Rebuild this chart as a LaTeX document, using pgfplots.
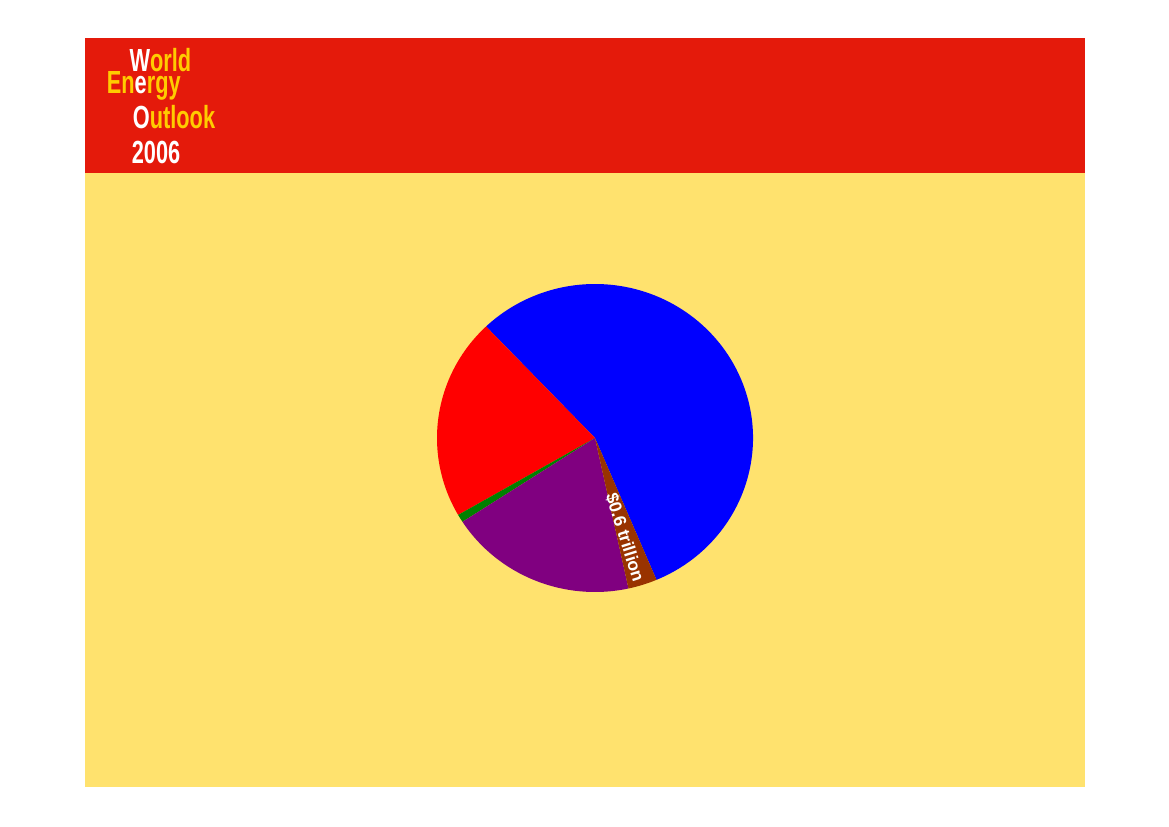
\documentclass[border=0pt]{standalone}
\usepackage{pgfplots}
\usepackage{pgfplotstable}
\pgfplotsset{compat=1.18}
\usepackage{fontspec}
\setmainfont{Liberation Sans}
\newfontfamily\logofont[FakeStretch=0.68]{Liberation Sans}

\definecolor{slidered}{HTML}{E41A0B}
\definecolor{slideyellow}{HTML}{FFE26E}
\definecolor{logoyellow}{HTML}{FFCC00}
\definecolor{pieblue}{HTML}{0000FF}
\definecolor{piered}{HTML}{FF0000}
\definecolor{piegreen}{HTML}{008000}
\definecolor{piepurple}{HTML}{800080}
\definecolor{piebrown}{HTML}{993300}

% cumulative investment, trillion dollars (counterclockwise from the start angle)
\pgfplotstableread{
sector   value colour
Power    11.3  pieblue
Oil      4.3   piered
Biofuels 0.17  piegreen
Gas      3.9   piepurple
Coal     0.6   piebrown
}\investtable

\begin{document}
\begin{tikzpicture}
% slide background
\path[use as bounding box, fill=white] (0,0) rectangle (1169bp,827bp);
\fill[slideyellow] (84.5bp,39.7bp) rectangle (1085bp,789.3bp);
\fill[slidered] (84.5bp,654.3bp) rectangle (1085bp,789.3bp);

% logo
\begin{scope}[every node/.style={anchor=base west, inner sep=0pt,
    font=\logofont\bfseries\fontsize{32bp}{32bp}\selectfont}]
\node at (129.3bp,755.7bp) {\color{white}W\color{logoyellow}orld};
\node at (106.7bp,733bp) {\color{logoyellow}En\color{white}e\color{logoyellow}rgy};
\node at (132.7bp,698.3bp) {\color{white}O\color{logoyellow}utlook};
\node at (131.7bp,663bp) {\color{white}2006};
\end{scope}

% slice angles
\pgfplotstablegetrowsof{\investtable}
\pgfmathtruncatemacro{\nrows}{\pgfplotsretval-1}
\pgfmathsetmacro{\total}{0}
\foreach \i in {0,...,\nrows}{
  \pgfplotstablegetelem{\i}{value}\of{\investtable}
  \pgfmathsetmacro{\tmp}{\total+\pgfplotsretval}
  \global\let\total\tmp
}
\pgfmathsetmacro{\cur}{292.9}
\foreach \i in {0,...,\nrows}{
  \pgfplotstablegetelem{\i}{value}\of{\investtable}
  \pgfmathsetmacro{\nxt}{\cur+360*\pgfplotsretval/\total}
  \expandafter\xdef\csname slicestart\i\endcsname{\cur}
  \expandafter\xdef\csname sliceend\i\endcsname{\nxt}
  \pgfplotstablegetelem{\i}{colour}\of{\investtable}
  \expandafter\xdef\csname slicecol\i\endcsname{\pgfplotsretval}
  \global\let\cur\nxt
}

\begin{axis}[
    at={(595bp,389bp)}, anchor=center,
    scale only axis, width=316bp, height=308bp,
    xmin=-1, xmax=1, ymin=-1, ymax=1,
    hide axis, clip=false,
  ]
\pgfplotsinvokeforeach{0,...,\nrows}{
  \fill[\csname slicecol#1\endcsname]
    (axis cs:0,0)
    -- (axis cs:{cos(\csname slicestart#1\endcsname)},{sin(\csname slicestart#1\endcsname)})
    arc[start angle=\csname slicestart#1\endcsname, end angle=\csname sliceend#1\endcsname,
        x radius=158bp, y radius=154bp]
    -- cycle;
}
\node[rotate=-72.5, text=white, inner sep=0pt,
      font=\bfseries\fontsize{17.5bp}{17.5bp}\selectfont]
  at (axis cs:0.19,-0.645) {\$0.6 trillion};
\end{axis}
\end{tikzpicture}
\end{document}
